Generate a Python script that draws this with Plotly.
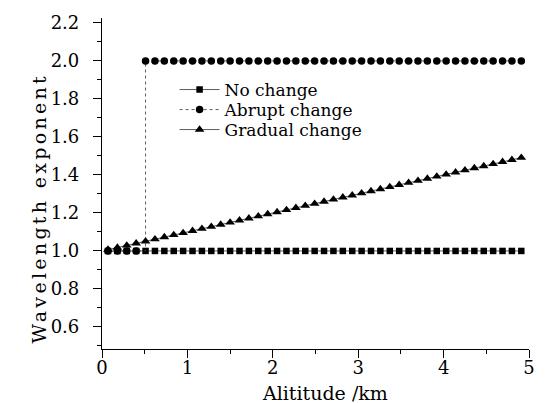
import plotly.graph_objects as go

# Altitude samples (km)
altitude = [0.07, 0.18, 0.29, 0.40, 0.51, 0.62, 0.73, 0.84, 0.95, 1.06,
            1.17, 1.28, 1.39, 1.50, 1.61, 1.72, 1.83, 1.94, 2.05, 2.16,
            2.27, 2.38, 2.49, 2.60, 2.71, 2.82, 2.93, 3.04, 3.15, 3.26,
            3.37, 3.48, 3.59, 3.70, 3.81, 3.92, 4.03, 4.14, 4.25, 4.36,
            4.47, 4.58, 4.69, 4.80, 4.91]

no_change = [1.0] * 45

abrupt_change = [1.0, 1.0, 1.0, 1.0, 2.0, 2.0, 2.0, 2.0, 2.0, 2.0,
                 2.0, 2.0, 2.0, 2.0, 2.0, 2.0, 2.0, 2.0, 2.0, 2.0,
                 2.0, 2.0, 2.0, 2.0, 2.0, 2.0, 2.0, 2.0, 2.0, 2.0,
                 2.0, 2.0, 2.0, 2.0, 2.0, 2.0, 2.0, 2.0, 2.0, 2.0,
                 2.0, 2.0, 2.0, 2.0, 2.0]

gradual_change = [1.007, 1.018, 1.029, 1.040, 1.051, 1.062, 1.073, 1.084, 1.095, 1.106,
                  1.117, 1.128, 1.139, 1.150, 1.161, 1.172, 1.183, 1.194, 1.205, 1.216,
                  1.227, 1.238, 1.249, 1.260, 1.271, 1.282, 1.293, 1.304, 1.315, 1.326,
                  1.337, 1.348, 1.359, 1.370, 1.381, 1.392, 1.403, 1.414, 1.425, 1.436,
                  1.447, 1.458, 1.469, 1.480, 1.491]

x_ticks = [0, 1, 2, 3, 4, 5]
y_ticks = [0.6, 0.8, 1.0, 1.2, 1.4, 1.6, 1.8, 2.0, 2.2]

FONT = "DejaVu Serif"
LINE = dict(color="#333333", width=0.8)

fig = go.Figure()
fig.add_trace(go.Scatter(x=altitude, y=no_change, name="No change",
                         mode="lines+markers", line=LINE, legend="legend",
                         marker=dict(symbol="square", size=6.5, color="black")))
fig.add_trace(go.Scatter(x=altitude, y=abrupt_change, name="Abrupt change",
                         mode="lines+markers", line=dict(LINE, shape="hv", dash="dot"),
                         legend="legend2",
                         marker=dict(symbol="circle", size=7.5, color="black")))
fig.add_trace(go.Scatter(x=altitude, y=gradual_change, name="Gradual change",
                         mode="lines+markers", line=LINE, legend="legend3",
                         marker=dict(symbol="triangle-up", size=8.5, color="black")))


def leg(ypos):
    return dict(x=0.17, y=ypos, xanchor="left", yanchor="middle",
                bgcolor="rgba(0,0,0,0)", font=dict(family=FONT, size=17),
                itemwidth=40)


fig.update_layout(
    width=547, height=403,
    margin=dict(l=102, r=15, t=18, b=54),
    paper_bgcolor="white", plot_bgcolor="white",
    font=dict(family=FONT, color="black", size=18),
    showlegend=True,
    legend=leg(0.7825), legend2=leg(0.722), legend3=leg(0.6616),
    xaxis=dict(range=[0, 5], tickvals=x_ticks, ticks="outside", ticklen=8,
               tickcolor="black", showline=True, linecolor="black", linewidth=1.2,
               showgrid=False, zeroline=False, ticklabelstandoff=-6,
               minor=dict(dtick=0.5, ticks="outside", ticklen=4, tickcolor="black")),
    yaxis=dict(range=[0.484, 2.226], tickvals=y_ticks, tickformat=".1f",
               ticks="outside", ticklen=8, tickcolor="black",
               showline=True, linecolor="black", linewidth=1.2,
               showgrid=False, zeroline=False, ticklabelstandoff=10,
               minor=dict(dtick=0.1, ticks="outside", ticklen=4, tickcolor="black")),
    annotations=[
        dict(text='<span style="letter-spacing:3.3px">Wavelength exponent</span>',
             xref="paper", yref="paper", x=-0.1465, y=0.426, textangle=-90,
             xanchor="center", yanchor="middle", showarrow=False,
             font=dict(family=FONT, size=19)),
        dict(text="Alititude /km", xref="paper", yref="paper", x=0.523, y=-0.132,
             xanchor="center", yanchor="middle", showarrow=False,
             font=dict(family=FONT, size=19)),
    ],
)

fig.write_html("out.html")
